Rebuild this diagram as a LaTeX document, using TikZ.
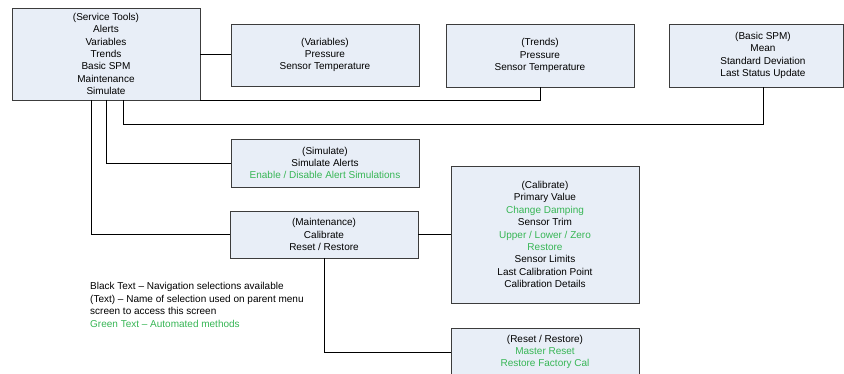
\documentclass[tikz,border=0pt]{standalone}
\usepackage{fontspec}
\setmainfont{Liberation Sans}
\definecolor{boxfill}{RGB}{232,238,247}
\definecolor{boxline}{RGB}{60,60,60}
\definecolor{autogreen}{RGB}{55,182,85}
\newcommand{\auto}[1]{\textcolor{autogreen}{#1}}
\tikzset{
  menubox/.style={draw=boxline, fill=boxfill, line width=0.9pt, align=center,
    inner sep=0pt, minimum width=188pt, font=\fontsize{10}{12.4}\selectfont},
  plaintext/.style={inner sep=0pt, align=center, font=\fontsize{10}{12.4}\selectfont},
  link/.style={draw=black, line width=0.9pt},
}
\begin{document}
\begin{tikzpicture}[x=1pt, y=-1pt]
\clip (0,0) rectangle (844,374);
\fill[white] (0,0) rectangle (844,374);

% menu screens
\node[menubox, minimum height=92pt] (st) at (106,54)
  {(Service Tools)\\Alerts\\Variables\\Trends\\Basic SPM\\Maintenance\\Simulate};
\node[menubox, minimum height=62pt] (var) at (325,55)
  {(Variables)\\Pressure\\Sensor Temperature};
\node[menubox, minimum height=63pt] (trd) at (540,55.5)
  {(Trends)\\Pressure\\Sensor Temperature};
\node[menubox, minimum width=174pt, minimum height=63pt] (spmbox) at (756,55.5) {};
\node[plaintext] (spm) at (763,55.5)
  {(Basic SPM)\\Mean\\Standard Deviation\\Last Status Update};
\node[menubox, minimum height=48pt] (sim) at (325,163)
  {(Simulate)\\Simulate Alerts\\\auto{Enable / Disable Alert Simulations}};
\node[menubox, minimum height=47pt] (mnt) at (324,234.5)
  {(Maintenance)\\Calibrate\\Reset / Restore};
\node[menubox, minimum height=137pt] (cal) at (545,234.5)
  {(Calibrate)\\Primary Value\\\auto{Change Damping}\\Sensor Trim\\\auto{Upper / Lower / Zero}\\\auto{Restore}\\Sensor Limits\\Last Calibration Point\\Calibration Details};
\node[menubox, minimum height=48pt] (rst) at (545,352)
  {(Reset / Restore)\\\auto{Master Reset}\\\auto{Restore Factory Cal}};

% legend
\node[plaintext, anchor=west, align=left] (legend) at (90,305)
  {Black Text -- Navigation selections available\\(Text) -- Name of selection used on parent menu\\screen to access this screen\\\auto{Green Text -- Automated methods}};

% connectors
\coordinate (stspm) at (123,100);
\coordinate (stsim) at (106,100);
\coordinate (stmnt) at (91,100);
\draw[link] (st.east) -- (st.east -| var.west);
\draw[link] (st.south east) -- (st.south east -| trd.south) -- (trd.south);
\draw[link] (stspm) -- (123,124) -- (spm |- 0,124) -- (spm |- spmbox.south);
\draw[link] (stsim) |- (sim.west);
\draw[link] (stmnt) |- (mnt.west);
\draw[link] (mnt.east) -- (mnt.east -| cal.west);
\draw[link] (mnt.south) |- (rst.west);
\end{tikzpicture}
\end{document}
